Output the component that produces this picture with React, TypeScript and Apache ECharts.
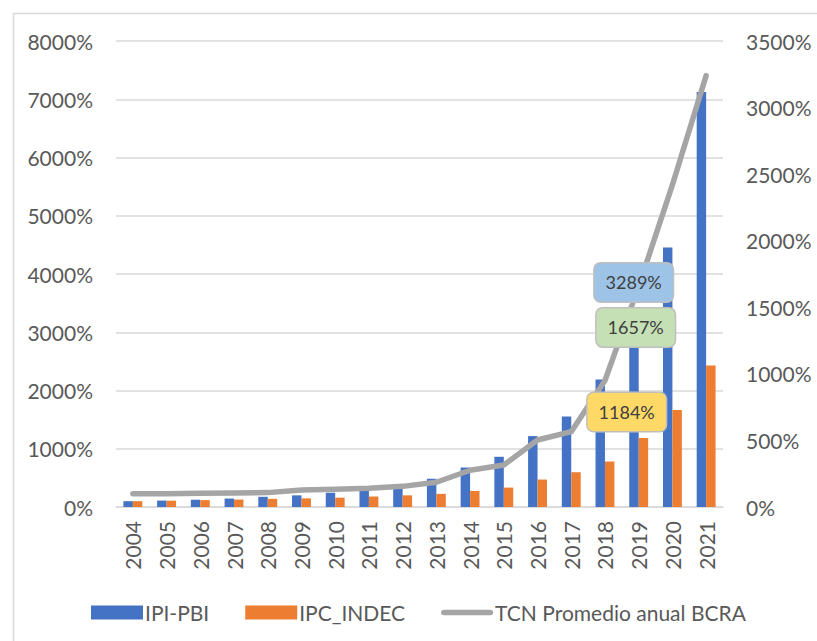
import React, { useEffect, useRef } from "react";
import * as echarts from "echarts";

const years = ["2004","2005","2006","2007","2008","2009","2010","2011","2012","2013","2014","2015","2016","2017","2018","2019","2020","2021"];
const ipiPbi = [100, 110, 125, 145, 175, 200, 245, 285, 340, 485, 678, 862, 1217, 1552, 2190, 3289, 4455, 7124];
const ipcIndec = [100, 108, 118, 128, 140, 148, 160, 180, 200, 225, 276, 333, 471, 597, 781, 1184, 1667, 2428];
const tcnBcra = [100, 99, 104, 106, 108, 127, 133, 140, 155, 186, 276, 316, 503, 566, 950, 1657, 2420, 3240];
const leftTicks = { min: 0, max: 8000, interval: 1000 };
const rightTicks = { min: 0, max: 3500, interval: 500 };
const labelledIndex = 15; // 2019

const FONT = "Lato";
const TXT = "#595959";
const pct = (v: number) => `${v}%`;

function labelSeries(name: string, values: number[], yAxisIndex: number, bg: string, offset: number[]) {
  return {
    name,
    type: "scatter",
    yAxisIndex,
    symbolSize: 1,
    z: 10,
    silent: true,
    itemStyle: { color: "rgba(0,0,0,0)", opacity: 1 },
    emphasis: { disabled: true },
    data: [[years[labelledIndex], values[labelledIndex]]],
    label: {
      show: true,
      position: "inside",
      offset,
      formatter: (p: any) => pct(p.value[1]),
      backgroundColor: bg,
      borderColor: "#BFBFBF",
      borderWidth: 1.5,
      borderRadius: 6,
      padding: [8, 11, 8, 11],
      fontFamily: FONT,
      fontSize: 18,
      lineHeight: 22,
      color: "#404040",
    },
  };
}

export default function App() {
  const ref = useRef<HTMLDivElement>(null);
  useEffect(() => {
    if (!ref.current) return;
    const chart = echarts.init(ref.current, null, { renderer: "svg" });
    chart.setOption({
      animation: false,
      backgroundColor: "#fff",
      textStyle: { fontFamily: FONT },
      graphic: [
        {
          type: "rect",
          left: 11,
          top: 11,
          shape: { width: 840, height: 660 },
          style: { fill: "none", stroke: "#D9D9D9", lineWidth: 1.5 },
          silent: true,
        },
      ],
      grid: { left: 116, right: 94, top: 41, bottom: 134 },
      legend: {
        left: 86,
        top: 597,
        itemWidth: 52,
        itemHeight: 14,
        itemGap: 36,
        textStyle: { fontFamily: FONT, fontSize: 21, color: TXT, padding: [0, 0, 0, -3] },
        data: [
          { name: "IPI-PBI", icon: "rect" },
          { name: "IPC_INDEC", icon: "rect" },
          {
            name: "TCN Promedio anual BCRA",
            icon: "path://M3,0 H53 A3,3 0 0 1 53,6 H3 A3,3 0 0 1 3,0 Z",
          },
        ],
      },
      xAxis: {
        type: "category",
        data: years,
        axisLine: { show: true, lineStyle: { color: "#D9D9D9", width: 1.5 } },
        axisTick: { show: false },
        axisLabel: { rotate: 90, fontFamily: FONT, fontSize: 21, color: TXT, margin: 14 },
      },
      yAxis: [
        {
          type: "value",
          ...leftTicks,
          axisLine: { show: false },
          axisTick: { show: false },
          splitLine: { lineStyle: { color: "#D9D9D9", width: 1.5 } },
          axisLabel: { formatter: pct, fontFamily: FONT, fontSize: 21, color: TXT, margin: 23 },
        },
        {
          type: "value",
          ...rightTicks,
          axisLine: { show: false },
          axisTick: { show: false },
          splitLine: { show: false },
          axisLabel: { formatter: pct, fontFamily: FONT, fontSize: 21, color: TXT, margin: 23 },
        },
      ],
      series: [
        {
          name: "IPI-PBI",
          type: "bar",
          data: ipiPbi,
          itemStyle: { color: "#4472C4" },
          barGap: "0%",
          barCategoryGap: "44%",
          z: 2,
        },
        {
          name: "IPC_INDEC",
          type: "bar",
          data: ipcIndec,
          itemStyle: { color: "#ED7D31" },
          z: 2,
        },
        {
          name: "TCN Promedio anual BCRA",
          type: "line",
          yAxisIndex: 1,
          data: tcnBcra,
          showSymbol: false,
          symbol: "none",
          itemStyle: { color: "#A5A5A5" },
          lineStyle: { color: "#A5A5A5", width: 5.5, cap: "round", join: "round" },
          z: 3,
        },
        labelSeries("lbl-ipi", ipiPbi, 0, "#9DC3E6", [-5, -33]),
        labelSeries("lbl-tcn", tcnBcra, 1, "#C5E0B4", [-3, 41]),
        labelSeries("lbl-ipc", ipcIndec, 0, "#FFD966", [-12, -26]),
      ],
    });
    return () => chart.dispose();
  }, []);
  return (
    <div
      ref={ref}
      style={{ position: "fixed", left: 0, top: 0, width: 817, height: 641 }}
    />
  );
}
